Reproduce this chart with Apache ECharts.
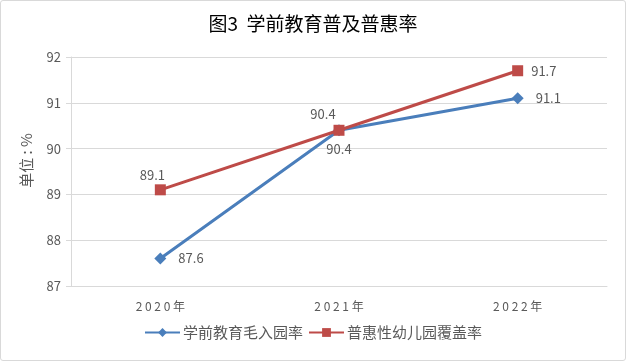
<!DOCTYPE html>
<html><head><meta charset="utf-8">
<script src="https://cdn.jsdelivr.net/npm/echarts@6/dist/echarts.min.js"></script>
<style>
html,body{margin:0;padding:0;background:#fff;}
#c{width:624px;height:359px;border:1px solid #d9d9d9;border-radius:3px;}
</style></head>
<body><div id="c"></div>
<script>
const categories = ['2020年','2021年','2022年'];
const enrollRate = [87.6, 90.4, 91.1];
const inclusiveRate = [89.1, 90.4, 91.7];
const seriesNames = ['学前教育毛入园率','普惠性幼儿园覆盖率'];
const yTicks = {min: 87, max: 92, interval: 1};

const font = '"Microsoft YaHei","Noto Sans CJK SC",sans-serif';
const pos1 = ['right','bottom','right'];
const pos2 = ['top','top','right'];
const dist1 = [12,6,12];
const dist2 = [3,4,8];
const chart = echarts.init(document.getElementById('c'));
chart.setOption({
  animation:false,
  textStyle:{fontFamily:font},
  title:{text:'图3  学前教育普及普惠率',left:'center',top:8,
    textStyle:{fontSize:19,fontWeight:'normal',color:'#000',fontFamily:font}},
  grid:{left:70,right:18,top:56,bottom:74},
  legend:{bottom:15,left:'center',itemWidth:35,itemHeight:11,itemGap:5,
    textStyle:{fontSize:15,color:'#595959',fontFamily:font,padding:[0,0,0,-2]},
    data:seriesNames},
  xAxis:{type:'category',data:categories,
    axisLine:{lineStyle:{color:'#d9d9d9'}},axisTick:{show:false},
    axisLabel:{color:'#595959',fontSize:12,margin:14,
      formatter:v=>v.replace(/(\d)(?=\d|年)/g,'$1 ')}},
  yAxis:{type:'value',min:yTicks.min,max:yTicks.max,interval:yTicks.interval,
    name:'单位 : %',nameLocation:'middle',nameGap:37,nameRotate:90,
    nameTextStyle:{color:'#595959',fontSize:15,fontFamily:font,padding:[0,0,0,22]},
    axisLine:{show:true,lineStyle:{color:'#d9d9d9'}},
    axisTick:{show:true,length:5,lineStyle:{color:'#d9d9d9'}},
    axisLabel:{color:'#595959',fontSize:13,margin:10},
    splitLine:{lineStyle:{color:'#d9d9d9'}}},
  series:[
    {name:seriesNames[0],type:'line',symbol:'diamond',symbolSize:12,
     lineStyle:{color:'#4a7ebb',width:3},itemStyle:{color:'#4a7ebb'},
     data:enrollRate.map((v,i)=>({value:v,label:{position:pos1[i],distance:dist1[i]}})),
     label:{show:true,color:'#595959',fontSize:13},z:2},
    {name:seriesNames[1],type:'line',symbol:'rect',symbolSize:11,
     lineStyle:{color:'#be4b48',width:3},itemStyle:{color:'#be4b48'},
     data:inclusiveRate.map((v,i)=>({value:v,label:{position:pos2[i],distance:dist2[i],offset:i==1?[-16,0]:[i==0?-8:0,0]}})),
     label:{show:true,color:'#595959',fontSize:13},z:3}
  ]
});
</script></body></html>
